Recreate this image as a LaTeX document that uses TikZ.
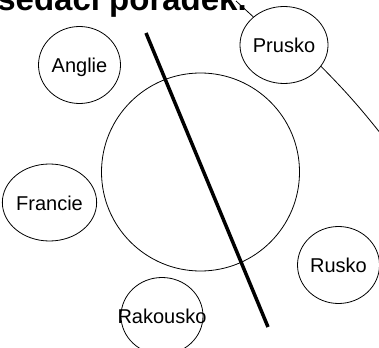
\documentclass[tikz,border=0pt]{standalone}
\usepackage{fontspec}
\setmainfont{Liberation Sans}
\usepackage{tikz}
\usetikzlibrary{shapes.geometric,calc}

\begin{document}
\begin{tikzpicture}[x=1pt,y=-1pt,
    land/.style={ellipse, draw, line width=0.8pt, fill=white, minimum width=82pt, minimum height=77pt,
      inner sep=0pt, text height=15pt, text depth=0pt, font=\fontsize{20}{24}\selectfont},
    spoj/.style={line width=0.8pt}]
  \clip (0,0) rectangle (379,347);
  \node[anchor=base east, inner sep=0pt, font=\fontsize{33}{40}\selectfont\bfseries] (nadpis) at (247,11) {sedací pořádek.};
  % stul a delici cara
  \node[circle, draw, line width=0.8pt, minimum size=198pt, inner sep=0pt] (stul) at (200.5,172) {};
  \coordinate (caraA) at (146,33);
  \coordinate (caraB) at (268,327);
  \draw[line width=3.5pt] (caraA) -- (caraB);
  % zeme
  \node[land] (anglie) at (79.5,65) {Anglie};
  \node[land] (prusko) at (284,45) {Prusko};
  \node[land] (francie) at (49.5,202.5) {Francie};
  \node[land] (rusko) at (338.5,265) {Rusko};
  \node[land] (rakousko) at (162,316) {};
  \node[inner sep=0pt, text height=15pt, text depth=0pt, font=\fontsize{20}{24}\selectfont] (rakouskoText) at (rakousko) {Rakousko};
  % spojnice
  \coordinate (konecA) at (236,1);
  \coordinate (konecB) at (381,134);
  \draw[spoj] (konecA) -- (prusko);
  \draw[spoj] (prusko.-30) to[bend left=3] (konecB);
\end{tikzpicture}
\end{document}
